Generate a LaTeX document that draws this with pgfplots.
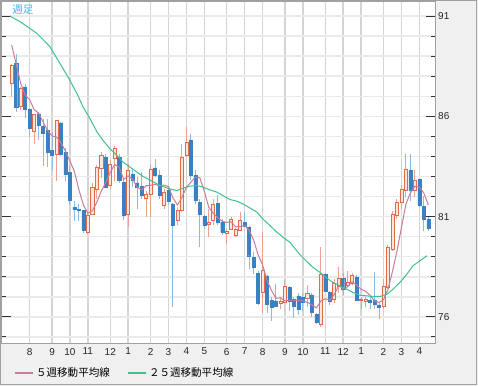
\documentclass[border=0pt]{standalone}
\usepackage{fontspec}
\setmainfont{Liberation Sans}
\newfontfamily\cjk{Noto Sans CJK JP}
\usepackage{pgfplots}
\pgfplotsset{compat=1.18}
\usepackage{pgfplotstable}

\definecolor{upline}{HTML}{E2694A}
\definecolor{upfill}{HTML}{FCE6DE}
\definecolor{upwick}{HTML}{EFA08A}
\definecolor{dnfill}{HTML}{3A80C2}
\definecolor{dnwick}{HTML}{8DBBE0}
\definecolor{maA}{HTML}{C97C9C}
\definecolor{maB}{HTML}{3FC08D}
\definecolor{bgc}{HTML}{F0F0F0}
\definecolor{framec}{HTML}{A0A0A0}
\definecolor{vgrid}{HTML}{D4D4D4}
\definecolor{hgrid}{HTML}{EAEAEA}
\definecolor{labelblue}{HTML}{3DB5EC}

% up candles (close > open)
\pgfplotstableread{
i O H L C
0 87.65 88.6 86.97 88.55
2 86.5 87.47 86.3 87.38
5 85.27 86.13 84.63 86.08
10 84.13 85.83 82.8 85.8
17 80.22 81.22 80.13 81.05
18 81.13 82.7 81.13 82.47
19 82.38 83.55 81.9 83.47
20 83.43 84.2 82.95 84.05
22 82.55 83.8 82.45 83.6
23 83.9 84.5 82.8 84.4
26 81.1 83.6 80.5 83.3
30 81.93 82.3 81.0 82.1
31 82.13 83.63 80.97 83.38
34 81.58 82.4 81.4 82.22
37 80.8 81.5 80.6 81.3
38 81.3 84.63 81.22 83.97
39 84.05 85.47 83.97 84.72
44 80.6 81.4 79.97 80.72
45 80.8 81.9 80.6 81.63
48 80.18 80.38 79.63 80.25
49 80.38 80.97 80.38 80.88
50 80.05 80.45 80.0 80.38
51 80.3 81.22 80.3 80.8
56 77.22 80.22 76.22 78.3
60 76.67 76.97 76.38 76.77
61 76.72 77.77 76.7 77.55
66 76.93 77.6 76.5 77.17
69 75.63 79.47 75.5 78.13
72 76.88 77.9 76.7 77.67
73 77.55 78.5 77.2 77.92
75 77.58 78.3 77.5 77.72
76 77.67 78.2 77.6 78.08
78 76.83 77.0 76.4 76.88
79 76.8 77.0 76.5 76.88
83 76.55 77.9 76.4 77.55
84 77.47 79.6 77.4 79.47
85 79.38 81.3 79.3 81.13
86 81.05 81.9 80.9 81.72
87 81.72 82.6 81.4 82.38
88 82.3 84.13 81.97 83.38
90 82.33 83.3 82.0 82.8
}\uptab

% down candles (close < open)
\pgfplotstableread{
i O H L C
1 88.63 89.1 86.2 86.47
3 87.47 87.63 85.9 86.35
4 86.35 86.4 84.97 85.42
6 86.13 86.2 84.8 85.55
7 85.5 85.88 83.5 85.18
8 85.33 85.85 83.47 84.22
9 84.3 85.2 83.3 84.08
11 85.68 85.7 84.0 84.1
12 84.22 84.4 82.8 83.1
13 83.22 83.5 81.6 81.83
14 81.47 81.8 80.8 81.35
15 81.35 81.65 80.8 81.3
16 81.3 81.35 80.2 80.3
21 83.97 84.1 82.47 82.47
24 83.97 84.1 82.7 82.8
25 82.72 82.9 80.85 81.05
27 83.1 83.3 82.5 82.8
28 82.68 83.0 81.4 82.47
29 82.5 83.2 81.9 82.05
32 83.43 83.88 82.97 83.08
33 83.05 83.3 81.9 82.05
35 82.3 82.55 81.65 81.77
36 81.63 81.7 76.47 80.55
40 84.83 85.1 82.85 83.05
41 83.05 83.3 81.65 81.83
42 81.72 81.88 79.47 81.13
43 81.0 81.1 80.4 80.55
46 81.67 82.1 80.6 80.72
47 80.72 80.9 80.1 80.22
52 80.72 81.22 80.47 80.5
53 80.47 80.55 78.38 79.05
54 78.97 79.22 78.13 78.47
55 78.18 78.3 76.6 76.67
57 78.05 78.1 76.22 76.63
58 76.83 76.97 75.8 76.5
59 76.8 77.63 76.47 76.55
62 77.47 77.55 76.3 76.77
63 76.88 77.0 75.95 76.55
64 77.05 77.2 76.1 76.4
65 76.97 77.2 76.3 76.72
67 77.1 77.2 76.0 76.22
68 76.13 76.2 75.67 75.72
70 78.13 78.2 77.3 77.3
71 77.22 77.3 76.57 76.8
74 77.93 78.2 77.1 77.38
77 78.0 78.1 76.8 76.83
80 76.83 77.1 76.4 76.72
81 76.85 78.25 76.4 76.63
82 76.6 76.7 75.9 76.5
89 83.3 84.1 81.8 82.3
91 82.88 82.9 81.5 81.55
92 81.5 82.05 80.3 80.88
93 80.88 81.0 80.3 80.43
}\dntab

% 5-week moving average
\pgfplotstableread{
i v
0 89.55
1 88.6
2 87.65
3 87.06
4 86.83
5 86.34
6 86.16
7 85.72
8 85.29
9 85.02
10 84.97
11 84.68
12 84.26
13 83.78
14 83.24
15 82.34
16 81.58
17 81.17
18 81.29
19 81.72
20 82.27
21 82.70
22 83.21
23 83.60
24 83.46
25 82.86
26 83.03
27 82.87
28 82.48
29 82.33
30 82.54
31 82.56
32 82.62
33 82.53
34 82.57
35 82.50
36 81.93
37 81.58
38 81.96
39 82.46
40 82.72
41 82.97
42 82.94
43 82.26
44 81.46
45 81.17
46 80.95
47 80.77
48 80.71
49 80.74
50 80.49
51 80.51
52 80.56
53 80.32
54 79.84
55 79.10
56 78.60
57 77.82
58 77.31
59 76.93
60 76.95
61 76.80
62 76.83
63 76.84
64 76.81
65 76.80
66 76.72
67 76.61
68 76.45
69 76.79
70 76.91
71 76.83
72 77.12
73 77.56
74 77.41
75 77.50
76 77.75
77 77.59
78 77.38
79 77.28
80 77.08
81 76.79
82 76.72
83 76.86
84 77.37
85 78.26
86 79.27
87 80.45
88 81.62
89 82.18
90 82.52
91 82.48
92 82.18
93 81.59
}\maAtab

% 25-week moving average
\pgfplotstableread{
i v
-0.38 91.0
1.85 90.72
4.08 90.38
5.65 90.13
6.99 89.83
8.55 89.47
10.11 88.88
11.45 88.38
12.97 87.8
14.58 87.13
15.92 86.47
17.48 85.88
19.04 85.22
20.38 84.8
21.94 84.38
23.5 84.05
24.84 83.72
26.4 83.47
27.97 83.22
29.31 83.0
30.87 82.83
32.43 82.63
33.77 82.5
35.33 82.38
36.9 82.3
38.24 82.42
39.8 82.52
41.36 82.55
42.7 82.47
44.26 82.33
45.83 82.22
47.17 82.05
48.73 81.85
50.29 81.77
51.63 81.63
53.19 81.43
54.76 81.22
56.09 80.88
57.66 80.55
59.22 80.22
60.56 79.97
62.12 79.72
64.35 79.1
65.92 78.75
67.25 78.47
68.82 78.22
70.38 77.93
71.72 77.72
73.28 77.55
74.84 77.38
76.18 77.22
77.75 77.08
79.31 77.05
80.65 77.02
82.21 77.02
83.77 77.13
85.11 77.38
86.67 77.72
88.23 78.13
89.57 78.55
91.14 78.8
92.7 79.05
}\maBtab

\pgfplotsset{
  candleaxis/.style={
    at={(1.5pt,32.25pt)}, anchor=south west,
    scale only axis, width=324.75pt, height=255.75pt,
    xmin=-2.17, xmax=94.5, ymin=74.7, ymax=91.7,
  }
}

\begin{document}
\begin{tikzpicture}
\fill[bgc] (0pt,0pt) rectangle (358.5pt,289.5pt);
\draw[framec, line width=0.75pt] (0.375pt,1.5pt) rectangle (357pt,289.1pt);

\begin{axis}[candleaxis,
  axis background/.style={fill=white},
  axis line style={framec, line width=0.75pt},
  xtick={4,9,13,17,22,26,31,35,39,43,48,52,56,61,65,70,74,78,83,87,91},
  xticklabels={8,9,10,11,12,1,2,3,4,5,6,7,8,9,10,11,12,1,2,3,4},
  xtick style={draw=none},
  xmajorgrids, x grid style={vgrid, line width=1.1pt},
  ytick={76,81,86,91},
  minor ytick={75,77,78,79,80,82,83,84,85,87,88,89,90},
  ymajorgrids, yminorgrids, y grid style={hgrid, line width=1.1pt},
  yticklabel pos=right,
  tick align=inside,
  major tick length=6.5pt, minor tick length=2.8pt,
  ytick style={draw=black!80, line width=0.75pt},
  /pgf/number format/assume math mode=true,
  tick label style={font=\fontsize{7.5}{9}\selectfont, text=black!85},
  yticklabel style={anchor=west, inner sep=0pt, xshift=2.2pt},
  xticklabel style={anchor=north, inner sep=0pt, yshift=-3.6pt},
]
% wicks
\addplot[forget plot, draw=none, mark=none,
  error bars/.cd, y dir=plus, y explicit, error mark=none,
  error bar style={draw=upwick, line width=0.75pt}]
  table[x=i, y=L, y error expr=\thisrow{H}-\thisrow{L}] {\uptab};
\addplot[forget plot, draw=none, mark=none,
  error bars/.cd, y dir=plus, y explicit, error mark=none,
  error bar style={draw=dnwick, line width=0.75pt}]
  table[x=i, y=L, y error expr=\thisrow{H}-\thisrow{L}] {\dntab};
% up bodies
\addplot[forget plot, ybar stacked, bar width=2.3pt, draw=none, fill=none]
  table[x=i, y=O] {\uptab};
\addplot[forget plot, ybar stacked, bar width=2.3pt, draw=upline, fill=upfill, line width=0.5pt]
  table[x=i, y expr=\thisrow{C}-\thisrow{O}] {\uptab};
\node[anchor=center, font=\cjk\fontsize{7.9}{9}\selectfont, text=labelblue, inner sep=0pt]
  at (axis description cs:0.0485,0.9765) {週足};
\end{axis}

\begin{axis}[candleaxis, hide axis,
  legend style={at={(axis description cs:0.0277,-0.088)}, anchor=west,
    draw=none, fill=none, inner sep=0pt,
    font=\cjk\fontsize{7.9}{9.5}\selectfont,
    legend columns=2,
    /tikz/every even column/.append style={column sep=11pt}},
]
% down bodies
\addplot[forget plot, ybar stacked, bar width=2.3pt, draw=none, fill=none]
  table[x=i, y=C] {\dntab};
\addplot[forget plot, ybar stacked, bar width=2.3pt, draw=dnfill, fill=dnfill, line width=0.3pt]
  table[x=i, y expr=\thisrow{O}-\thisrow{C}] {\dntab};
% moving averages
\addplot[maA, line width=0.75pt, mark=none,
  legend image code/.code={\draw[maA, line width=0.9pt] (0pt,0pt) -- (13.5pt,0pt);}]
  table[x=i, y=v] {\maAtab};
\addlegendentry{５週移動平均線}
\addplot[maB, line width=0.75pt, mark=none,
  legend image code/.code={\draw[maB, line width=0.9pt] (0pt,0pt) -- (13.5pt,0pt);}]
  table[x=i, y=v] {\maBtab};
\addlegendentry{２５週移動平均線}
\end{axis}
\end{tikzpicture}
\end{document}
